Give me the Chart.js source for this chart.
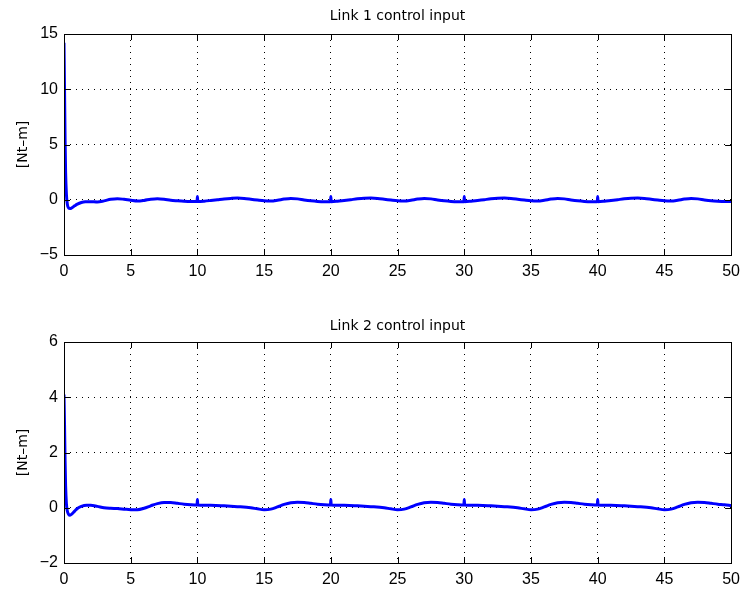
<!DOCTYPE html>
<html>
<head>
<meta charset="utf-8">
<title>Link control inputs</title>
<script src="https://cdn.jsdelivr.net/npm/chart.js@4/dist/chart.umd.min.js"></script>
<style>
  body { margin: 0; background: #fff; }
  canvas { position: absolute; left: 0; }
</style>
</head>
<body>
<canvas id="link1" width="747" height="296" style="top:0"></canvas>
<canvas id="link2" width="747" height="296" style="top:296px"></canvas>
<script>
// time [s] and torque [Nt-m]
const t1 = [0, 0.04, 0.08, 0.12, 0.18, 0.25, 0.35, 0.45, 0.6, 0.8, 1.0, 1.3, 1.6, 2.0, 2.5, 3.0, 3.5, 4.0, 4.5, 5.0,
  5.5, 6.0, 6.5, 7.0, 7.5, 8.0, 8.5, 9.0, 9.5, 9.97, 10.0, 10.03, 10.5, 11.0, 11.5, 12.0, 12.5, 13.0, 13.5, 14.0,
  14.5, 15.0, 15.5, 16.0, 16.5, 17.0, 17.5, 18.0, 18.5, 19.0, 19.5, 19.97, 20.0, 20.03, 20.5, 21.0, 21.5, 22.0, 22.5, 23.0,
  23.5, 24.0, 24.5, 25.0, 25.5, 26.0, 26.5, 27.0, 27.5, 28.0, 28.5, 29.0, 29.5, 29.97, 30.0, 30.03, 30.5, 31.0, 31.5, 32.0,
  32.5, 33.0, 33.5, 34.0, 34.5, 35.0, 35.5, 36.0, 36.5, 37.0, 37.5, 38.0, 38.5, 39.0, 39.5, 39.97, 40.0, 40.03, 40.5, 41.0,
  41.5, 42.0, 42.5, 43.0, 43.5, 44.0, 44.5, 45.0, 45.5, 46.0, 46.5, 47.0, 47.5, 48.0, 48.5, 49.0, 49.5, 50.0]
const u1 = [14.2, 10, 5.5, 2.5, 0.5, -0.4, -0.75, -0.8, -0.72, -0.55, -0.4, -0.25, -0.18, -0.17, -0.2, -0.1, 0.04, 0.1, 0.04, -0.05,
  -0.12, -0.06, 0.05, 0.1, 0.05, -0.05, -0.1, -0.14, -0.16, -0.16, 0.3, -0.16, -0.13, -0.07, 0.0, 0.07, 0.12, 0.15, 0.12, 0.05,
  -0.03, -0.1, -0.12, -0.05, 0.06, 0.12, 0.08, -0.02, -0.1, -0.15, -0.17, -0.17, 0.3, -0.17, -0.13, -0.06, 0.01, 0.08, 0.13, 0.15,
  0.12, 0.05, -0.03, -0.1, -0.12, -0.05, 0.06, 0.12, 0.08, -0.02, -0.1, -0.15, -0.17, -0.17, 0.3, -0.17, -0.13, -0.06, 0.01, 0.08,
  0.13, 0.15, 0.12, 0.05, -0.03, -0.1, -0.12, -0.05, 0.06, 0.12, 0.08, -0.02, -0.1, -0.15, -0.17, -0.17, 0.3, -0.17, -0.13, -0.06,
  0.01, 0.08, 0.13, 0.15, 0.12, 0.05, -0.03, -0.1, -0.12, -0.05, 0.06, 0.12, 0.08, -0.02, -0.1, -0.14, -0.16, -0.16]

const t2 = [0, 0.04, 0.08, 0.12, 0.18, 0.25, 0.35, 0.45, 0.6, 0.8, 1.0, 1.3, 1.7, 2.0, 2.5, 3.0, 3.5, 4.0, 4.5, 5.0,
  5.5, 6.0, 6.5, 7.0, 7.5, 8.0, 8.5, 9.0, 9.5, 9.97, 10.0, 10.03, 10.5, 11.0, 12.0, 13.0, 14.0, 14.5, 15.0, 15.5,
  16.0, 16.5, 17.0, 17.5, 18.0, 18.5, 19.0, 19.5, 19.97, 20.0, 20.03, 20.5, 21.0, 22.0, 23.0, 24.0, 24.5, 25.0, 25.5, 26.0,
  26.5, 27.0, 27.5, 28.0, 28.5, 29.0, 29.5, 29.97, 30.0, 30.03, 30.5, 31.0, 32.0, 33.0, 34.0, 34.5, 35.0, 35.5, 36.0, 36.5,
  37.0, 37.5, 38.0, 38.5, 39.0, 39.5, 39.97, 40.0, 40.03, 40.5, 41.0, 42.0, 43.0, 44.0, 44.5, 45.0, 45.5, 46.0, 46.5, 47.0,
  47.5, 48.0, 48.5, 49.0, 49.5, 50.0]
const u2 = [4.1, 3.0, 1.7, 0.8, 0.15, -0.12, -0.24, -0.27, -0.22, -0.12, -0.03, 0.05, 0.09, 0.09, 0.05, 0.0, -0.02, -0.03, -0.05, -0.07,
  -0.07, -0.02, 0.07, 0.15, 0.19, 0.19, 0.16, 0.13, 0.11, 0.1, 0.3, 0.1, 0.09, 0.09, 0.07, 0.04, 0.0, -0.04, -0.07, -0.05,
  0.03, 0.12, 0.18, 0.2, 0.19, 0.16, 0.13, 0.11, 0.1, 0.3, 0.1, 0.09, 0.09, 0.07, 0.04, 0.0, -0.04, -0.07, -0.05, 0.03,
  0.12, 0.18, 0.2, 0.19, 0.16, 0.13, 0.11, 0.1, 0.3, 0.1, 0.09, 0.09, 0.07, 0.04, 0.0, -0.04, -0.07, -0.05, 0.03, 0.12,
  0.18, 0.2, 0.19, 0.16, 0.13, 0.11, 0.1, 0.3, 0.1, 0.09, 0.09, 0.07, 0.04, 0.0, -0.04, -0.07, -0.05, 0.03, 0.12, 0.18,
  0.2, 0.19, 0.16, 0.13, 0.11, 0.08]

const FONT = 'DejaVu Sans, Liberation Sans, Arial, sans-serif'
const TICK_FONT = 'Liberation Sans, Arial, Helvetica, sans-serif'

// matlab style axes box with ticks pointing inward
const boxPlugin = {
  id: 'boxPlugin',
  afterDatasetsDraw(chart) {
    const { ctx, chartArea: a, scales } = chart
    ctx.save()
    ctx.strokeStyle = '#000'
    ctx.lineWidth = 1
    ctx.beginPath()
    scales.x.ticks.forEach(t => {
      const px = Math.round(scales.x.getPixelForValue(t.value)) + 0.5
      ctx.moveTo(px, a.bottom); ctx.lineTo(px, a.bottom - 6)
      ctx.moveTo(px, a.top); ctx.lineTo(px, a.top + 6)
    })
    scales.y.ticks.forEach(t => {
      const py = Math.round(scales.y.getPixelForValue(t.value)) + 0.5
      ctx.moveTo(a.left, py); ctx.lineTo(a.left + 6, py)
      ctx.moveTo(a.right, py); ctx.lineTo(a.right - 6, py)
    })
    ctx.stroke()
    ctx.strokeRect(Math.round(a.left) + 0.5, Math.round(a.top) + 0.5,
      Math.round(a.right - a.left), Math.round(a.bottom - a.top))
    ctx.restore()
  }
}

function makePlot(id, title, tt, uu, ymin, ymax, ystep, titlePad, xHeight) {
  const pts = tt.map((t, i) => ({ x: t, y: uu[i] }))
  return new Chart(document.getElementById(id), {
    type: 'scatter',
    data: {
      datasets: [{
        data: pts,
        showLine: true,
        borderColor: 'rgb(0,0,255)',
        borderWidth: 3,
        pointRadius: 0,
        cubicInterpolationMode: 'monotone'
      }]
    },
    plugins: [boxPlugin],
    options: {
      responsive: false,
      animation: false,
      layout: { padding: { left: 0, right: 12, top: 0, bottom: 0 } },
      plugins: {
        legend: { display: false },
        tooltip: { enabled: false },
        title: {
          display: true,
          text: title,
          fullSize: false,
          color: '#000',
          font: { family: FONT, size: 14, weight: 'normal' },
          padding: titlePad
        }
      },
      scales: {
        x: {
          type: 'linear',
          min: 0, max: 50,
          afterFit(s) { s.height = xHeight },
          ticks: { stepSize: 5, color: '#000', padding: 7, font: { family: TICK_FONT, size: 16 } },
          grid: { color: '#000', drawTicks: false },
          border: { display: false, dash: [1, 5] }
        },
        y: {
          min: ymin, max: ymax,
          afterFit(s) { s.width = 64 },
          ticks: {
            stepSize: ystep, color: '#000', padding: 6, font: { family: TICK_FONT, size: 16 },
            callback: v => v < 0 ? '\u2212' + Math.abs(v) : '' + v
          },
          grid: { color: '#000', drawTicks: false },
          border: { display: false, dash: [1, 5] },
          title: {
            display: true, text: '[Nt\u2013m]', color: '#000',
            font: { family: FONT, size: 14 }, padding: { top: 14.6, bottom: 0 }
          }
        }
      }
    }
  })
}

makePlot('link1', 'Link 1 control input', t1, u1, -5, 15, 5, { top: 8.1, bottom: 9.1 }, 41)
makePlot('link2', 'Link 2 control input', t2, u2, -2, 6, 2, { top: 21.6, bottom: 7.6 }, 29)
</script>
</body>
</html>
